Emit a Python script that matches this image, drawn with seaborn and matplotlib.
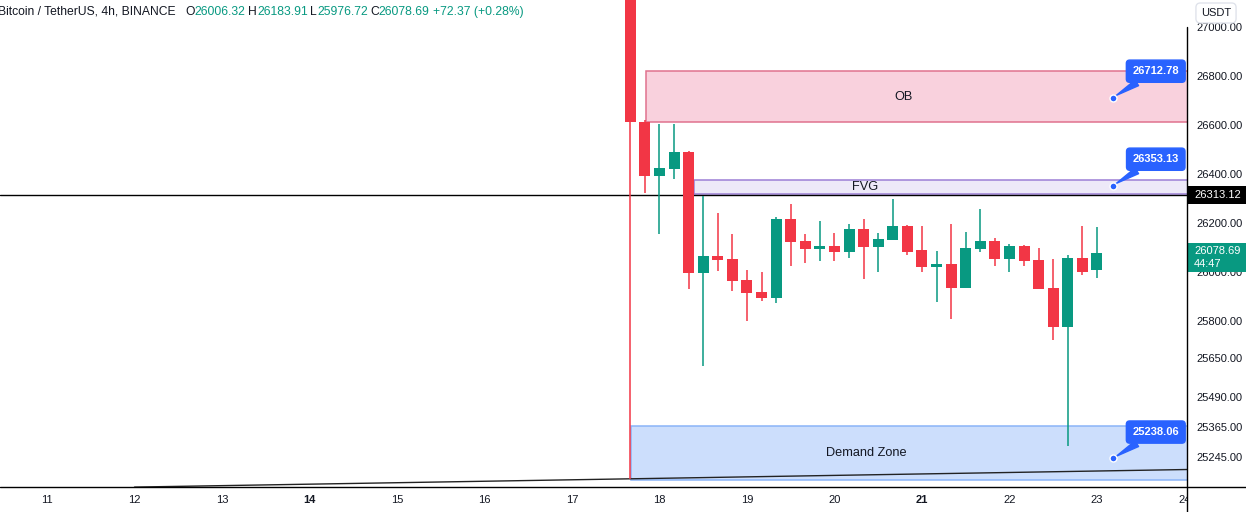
import numpy as np
import pandas as pd
import seaborn as sns
import matplotlib.pyplot as plt
from matplotlib.patches import Rectangle
from matplotlib.lines import Line2D
from matplotlib.transforms import Bbox, TransformedBbox

# ---- data (BTC/USDT 4h) ----
times = ['17 16:00', '17 20:00',
         '18 00:00', '18 04:00', '18 08:00', '18 12:00', '18 16:00', '18 20:00',
         '19 00:00', '19 04:00', '19 08:00', '19 12:00', '19 16:00', '19 20:00',
         '20 00:00', '20 04:00', '20 08:00', '20 12:00', '20 16:00', '20 20:00',
         '21 00:00', '21 04:00', '21 08:00', '21 12:00', '21 16:00', '21 20:00',
         '22 00:00', '22 04:00', '22 08:00', '22 12:00', '22 16:00', '22 20:00',
         '23 00:00']
opens = [27250, 26614, 26394, 26422, 26490, 25997, 26065, 26053,
         25967, 25918, 25895, 26217, 26127, 26095,
         26106, 26083, 26176, 26103, 26132, 26188,
         26090, 26022, 26033, 25936, 26095, 26127,
         26054, 26106, 26049, 25935, 25777, 26057,
         26006.32]
highs = [27300, 26620, 26605, 26605, 26496, 26311, 26241, 26155,
         26008, 26000, 26226, 26278, 26155, 26208,
         26159, 26196, 26217, 26159, 26298, 26192,
         26188, 26087, 26196, 26163, 26258, 26139,
         26114, 26110, 26098, 26054, 26070, 26188,
         26183.91]
lows = [25154, 26323, 26157, 26381, 25932, 25617, 26005, 25924,
        25801, 25883, 25872, 26026, 26036, 26046,
        26046, 26058, 25973, 26001, 26132, 26071,
        26001, 25879, 25809, 25936, 26083, 26026,
        26001, 26026, 25932, 25723, 25290, 25989,
        25976.72]
closes = [26614, 26394, 26425, 26490, 25997, 26065, 26050, 25965,
          25915, 25895, 26217, 26124, 26095, 26106,
          26083, 26176, 26103, 26135, 26188, 26083,
          26022, 26033, 25936, 26098, 26127, 26054,
          26106, 26046, 25932, 25777, 26057, 26001,
          26078.69]

zone_names = ['OB', 'FVG', 'Demand Zone']
zone_start = [17.846, 18.40, 17.674]
zone_lo = [26613, 26319, 25150]
zone_hi = [26821, 26376, 25371]
zone_text_x = [20.79, 20.35, 20.36]

callout_vals = [26712.78, 26353.13, 25238.06]
callout_x = 23.18

last_line = 26313.12
last_price = 26078.69
countdown = '44:47'
trend_x = [12.0, 24.05]
trend_y = [25121, 25193]

day_ticks = [11, 12, 13, 14, 15, 16, 17, 18, 19, 20, 21, 22, 23, 24]
bold_days = [14, 21]
price_ticks = [27000, 26800, 26600, 26400, 26200, 26000, 25800, 25650, 25490, 25365, 25245]

# ---- styling ----
GREEN = '#089981'
RED = '#F23645'
BLUE = '#2962FF'
TXT = '#131722'
W, H = 1246, 512

sns.set_style('white')
plt.rcParams['font.family'] = ['Liberation Sans', 'DejaVu Sans']

df = pd.DataFrame({'t': times, 'open': opens, 'high': highs, 'low': lows, 'close': closes})
df['x'] = [int(t.split()[0]) + int(t.split()[1][:2]) / 24 for t in df['t']]
up = df['close'] >= df['open']
colors = np.where(up, GREEN, RED)

fig = plt.figure(figsize=(W / 100, H / 100), dpi=100)
ax = fig.add_axes([0, 25 / H, 1187 / W, 487 / H])

# zones
zone_fc = ['#F9D1DD', '#EDE9F8', '#CCDEFC']
zone_ec = ['#E0728E', '#9C7FD6', '#8AB4F8']
for i, name in enumerate(zone_names):
    ax.add_patch(Rectangle((zone_start[i], zone_lo[i]), 24.5 - zone_start[i], zone_hi[i] - zone_lo[i],
                           fc=zone_fc[i], ec=zone_ec[i], lw=1.1, zorder=1))
    ax.text(zone_text_x[i], (zone_lo[i] + zone_hi[i]) / 2, name, ha='center', va='center',
            fontsize=9.2, color=TXT, zorder=2)

# trend line
sns.lineplot(x=trend_x, y=trend_y, ax=ax, color='#222222', lw=1, zorder=2)

# last close horizontal line
ax.axhline(last_line, color='black', lw=1, zorder=2)

# candles
ax.vlines(df['x'], df['low'], df['high'], colors=colors, lw=1.1, zorder=3)
ax.bar(df['x'], (df['close'] - df['open']).abs(), bottom=df[['open', 'close']].min(axis=1),
       width=0.126, color=colors, lw=0, zorder=4)

# callouts
for v in callout_vals:
    ax.plot(callout_x, v, 'o', ms=5, mfc=BLUE, mec='white', mew=1, zorder=7)
    ax.annotate(f'{v:.2f}', xy=(callout_x, v), xytext=(31, 19), textcoords='offset points',
                ha='center', va='center', color='white', fontsize=8, fontweight='bold',
                bbox=dict(boxstyle='round,pad=0.55,rounding_size=0.3', fc=BLUE, ec=BLUE),
                arrowprops=dict(arrowstyle='wedge,tail_width=0.6', fc=BLUE, ec=BLUE,
                                shrinkA=0, shrinkB=3),
                zorder=6, annotation_clip=False)

ax.set_xlim(10.463, 24.029)
ax.set_ylim(25121.4, 27111.6)
for s in ax.spines.values():
    s.set_visible(False)

ax.set_xticks(day_ticks)
ax.set_xticklabels([str(d) for d in day_ticks])
ax.yaxis.tick_right()
ax.set_yticks(price_ticks)
ax.set_yticklabels([f'{p:.2f}' for p in price_ticks])
ax.tick_params(axis='both', length=0, labelsize=8, labelcolor=TXT)
ax.tick_params(axis='y', pad=7)
ax.tick_params(axis='x', pad=6)
clip = TransformedBbox(Bbox([[0, -1], [1, 1]]), ax.transAxes)
for lbl, d in zip(ax.get_xticklabels(), day_ticks):
    lbl.set_clip_box(clip)
    lbl.set_clip_on(True)
    if d in bold_days:
        lbl.set_fontweight('bold')

# price labels on the axis (background boxes + text)
ytr = ax.get_yaxis_transform()
unit = (27111.6 - 25121.4) / 487  # price per pixel
bw = 59 / 1187
ax.add_patch(Rectangle((1.0, last_line - 9 * unit), bw, 18 * unit, transform=ytr,
                       fc='black', ec='none', zorder=9, clip_on=False))
ax.text(1.0 + 7 / 1187, last_line, f'{last_line:.2f}', transform=ytr, ha='left', va='center',
        color='white', fontsize=8, zorder=10, clip_on=False)
ax.add_patch(Rectangle((1.0, last_price - 19 * unit), bw, 29 * unit, transform=ytr,
                       fc=GREEN, ec='none', zorder=9, clip_on=False))
ax.text(1.0 + 7 / 1187, last_price + 2 * unit, f'{last_price:.2f}', transform=ytr, ha='left',
        va='center', color='white', fontsize=8, zorder=10, clip_on=False)
ax.text(1.0 + 7 / 1187, last_price - 11 * unit, countdown, transform=ytr, ha='left',
        va='center', color='white', fontsize=8, zorder=10, clip_on=False)

# frame lines
fig.add_artist(Line2D([0, 1], [25 / H, 25 / H], color='black', lw=1))
fig.add_artist(Line2D([1187 / W, 1187 / W], [0, 1 - 27 / H], color='black', lw=1))

fig.text(1216 / W, 1 - 13 / H, 'USDT', ha='center', va='center', fontsize=8, color=TXT,
         bbox=dict(boxstyle='round,pad=0.45,rounding_size=0.4', fc='white', ec='#E0E3EB'), zorder=20)

# header
hy = 1 - 12 / H
fig.text(-2 / W, hy, 'Bitcoin / TetherUS, 4h, BINANCE', ha='left', va='center', fontsize=8.7, color=TXT)
parts = [(185, 'O', '26006.32'), (248, 'H', '26183.91'), (310, 'L', '25976.72'), (370, 'C', '26078.69')]
for px, letter, val in parts:
    fig.text(px / W, hy, letter, ha='left', va='center', fontsize=8.7, color=TXT)
    off = 9 if letter in 'OH' else (7 if letter == 'L' else 8.5)
    fig.text((px + off) / W, hy, val, ha='left', va='center', fontsize=8.7, color=GREEN)
fig.text(433 / W, hy, '+72.37 (+0.28%)', ha='left', va='center', fontsize=8.7, color=GREEN)

fig.savefig('out.png', dpi=100)
